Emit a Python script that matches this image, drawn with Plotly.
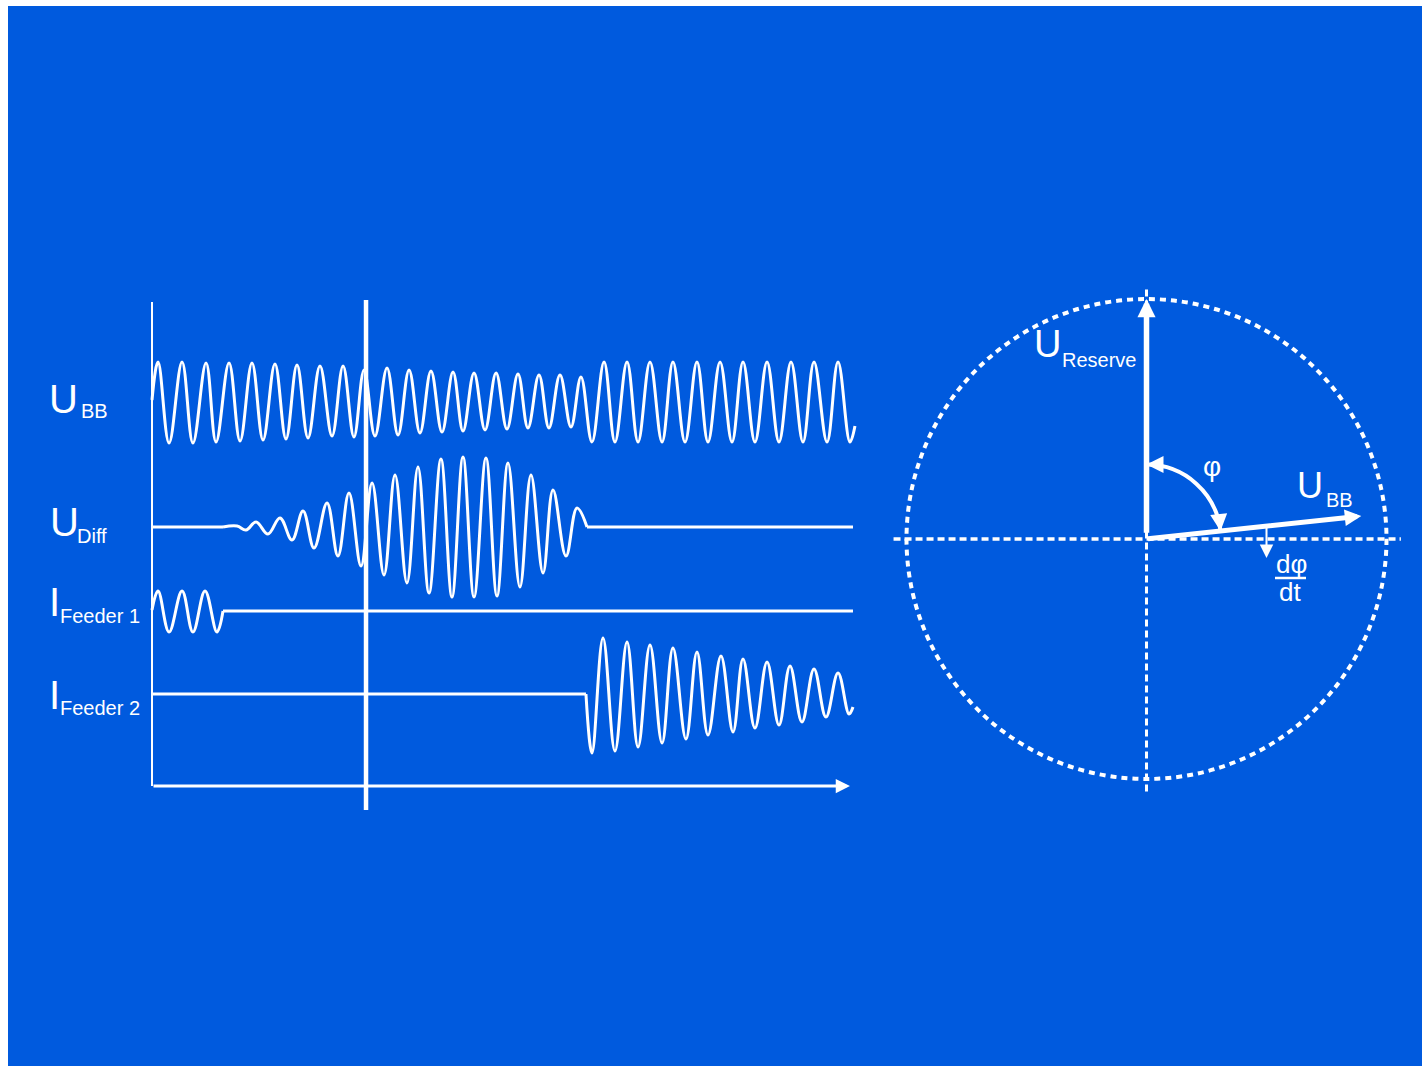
import numpy as np
import plotly.graph_objects as go

W, H = 1422, 1066
BLUE = "#005ADE"
WHITE = "#FFFFFF"
FONT = "Liberation Sans, Arial, sans-serif"

# ---------------------------------------------------------------------------
# Waveform panel: time in ms, signals in p.u. around each channel baseline
# ---------------------------------------------------------------------------
# busbar voltage U_BB (extrema of the oscillogram)
ubb_t = [0.0, 5.2, 14.7, 25.9, 35.3, 46.6, 55.2, 66.4, 75.9, 86.2, 95.7, 106.0,
         115.5, 125.0, 134.5, 144.8, 155.2, 164.7, 174.1, 182.8, 192.2, 202.6,
         212.1, 221.6, 231.0, 240.5, 250.0, 259.5, 268.1, 277.6, 287.1, 296.6,
         306.0, 315.5, 324.1, 333.6, 342.2, 351.7, 361.2, 369.8, 379.3, 389.7,
         399.1, 409.5, 419.0, 429.3, 439.7, 449.1, 459.5, 469.8, 479.3, 489.7,
         500.0, 509.5, 519.8, 530.2, 540.5, 550.9, 561.2, 570.7, 581.9, 591.4,
         601.7, 606.0]
ubb_v = [0.05, 1.0, -1.025, 1.0, -1.025, 0.975, -1.0, 0.975, -0.975, 0.975,
         -0.95, 0.95, -0.925, 0.925, -0.9, 0.9, -0.85, 0.9, -0.875, 0.8,
         -0.85, 0.85, -0.825, 0.8, -0.775, 0.775, -0.75, 0.75, -0.725, 0.725,
         -0.7, 0.725, -0.675, 0.7, -0.65, 0.675, -0.65, 0.675, -0.625, 0.625,
         -1.0, 1.0, -1.0, 1.0, -1.0, 1.0, -1.0, 1.0, -1.0, 1.0, -1.0, 1.0,
         -1.0, 1.0, -1.0, 1.0, -1.0, 1.0, -1.0, 1.0, -1.0, 1.0, -1.0, -0.6]

# differential voltage U_Diff (beat between busbar and reserve supply)
udiff_t = [61.2, 73.3, 81.0, 89.7, 100.0, 110.3, 120.7, 130.2, 139.7, 150.9,
           160.3, 169.8, 180.2, 189.7, 200.0, 209.5, 219.8, 229.3, 238.8,
           249.1, 258.6, 268.1, 277.6, 287.9, 297.4, 306.9, 317.2, 326.7,
           337.1, 345.7, 356.9, 366.4, 375.0]
udiff_v = [0.0, 0.025, -0.075, 0.125, -0.175, 0.225, -0.325, 0.4, -0.525, 0.6,
           -0.725, 0.85, -0.975, 1.1, -1.2, 1.3, -1.4, 1.5, -1.65, 1.7, -1.75,
           1.75, -1.75, 1.725, -1.725, 1.6, -1.5, 1.3, -1.15, 0.925, -0.725,
           0.475, 0.0]

# feeder 1 current (interrupted)
if1_t = [0.0, 5.2, 14.7, 25.9, 35.3, 45.7, 56.0, 61.2]
if1_v = [0.025, 0.5, -0.525, 0.5, -0.525, 0.5, -0.525, 0.0]

# feeder 2 current (reserve feeder picks up the load)
if2_t = [374.1, 379.3, 388.8, 399.1, 409.5, 419.0, 429.3, 439.7, 449.1, 460.3,
         469.8, 479.3, 490.5, 500.9, 509.5, 519.8, 530.2, 540.5, 550.0, 560.3,
         570.7, 581.0, 591.4, 600.9, 604.3]
if2_v = [0.0, -1.475, 1.4, -1.425, 1.3, -1.325, 1.225, -1.225, 1.15, -1.125,
         1.05, -1.025, 0.95, -0.95, 0.875, -0.85, 0.8, -0.775, 0.7, -0.7,
         0.625, -0.575, 0.525, -0.5, -0.325]

# channel baselines (p.u.) and flat (zero) stretches
ch_offset = {"UBB": 0.0, "UDiff": -3.125, "IF1": -5.225, "IF2": -7.3}
udiff_flat = [(0.0, 61.2), (375.0, 604.3)]
if1_flat = [(61.2, 604.3)]
if2_flat = [(0.0, 374.1)]

t_end_axis = 601.7      # tip of the time arrow
v_axis_top = 2.5
v_axis_bottom = -9.6
t_switch = 184.5        # switching instant marker
v_switch = (2.55, -10.2)

# ---------------------------------------------------------------------------
# Phasor diagram (p.u.)
# ---------------------------------------------------------------------------
u_reserve_mag, u_reserve_ang = 1.0, 90.0
u_bb_mag, u_bb_ang = 0.90, 6.1
phi_arc_r = 0.31
dphi_pos = 0.5          # where the d(phi)/dt arrow starts along U_BB
dphi_len = 0.133

# ---------------------------------------------------------------------------
def pap(xpx, ypx):
    return xpx / W, 1 - ypx / H


fig = go.Figure()


def add_wave(t, v, off):
    fig.add_trace(go.Scatter(
        x=t, y=np.array(v) + off, mode="lines",
        line=dict(color=WHITE, width=3, shape="spline", smoothing=1.1),
        xaxis="x", yaxis="y", hoverinfo="skip", showlegend=False))


def add_flat(spans, off):
    for a, b in spans:
        fig.add_trace(go.Scatter(
            x=[a, b], y=[off, off], mode="lines", line=dict(color=WHITE, width=3),
            xaxis="x", yaxis="y", hoverinfo="skip", showlegend=False))


add_wave(ubb_t, ubb_v, ch_offset["UBB"])
add_wave(udiff_t, udiff_v, ch_offset["UDiff"])
add_wave(if1_t, if1_v, ch_offset["IF1"])
add_wave(if2_t, if2_v, ch_offset["IF2"])
add_flat(udiff_flat, ch_offset["UDiff"])
add_flat(if1_flat, ch_offset["IF1"])
add_flat(if2_flat, ch_offset["IF2"])

# amplitude axis
fig.add_trace(go.Scatter(x=[0, 0], y=[v_axis_top, v_axis_bottom], mode="lines",
                         line=dict(color=WHITE, width=2), xaxis="x", yaxis="y",
                         hoverinfo="skip", showlegend=False))
# switching instant
fig.add_trace(go.Scatter(x=[t_switch, t_switch], y=list(v_switch), mode="lines",
                         line=dict(color=WHITE, width=4.5), xaxis="x", yaxis="y",
                         hoverinfo="skip", showlegend=False))

# ---------------------------------------------------------------------------
# Layout: two hand-scaled subplots, pixel-matched
# ---------------------------------------------------------------------------
lx0, lx1 = 100, 880
ly0, ly1 = 250, 850
px_per_ms = 1.16
px_per_pu = 40.0
t0_px, v0_px = 152, 402

cx, cy, R = 1146.5, 539.0, 240.0
half = 260.0

layout_axes = dict(
    xaxis=dict(domain=[lx0 / W, lx1 / W],
               range=[(lx0 - t0_px) / px_per_ms, (lx1 - t0_px) / px_per_ms],
               visible=False, fixedrange=True, anchor="y"),
    yaxis=dict(domain=[1 - ly1 / H, 1 - ly0 / H],
               range=[(v0_px - ly1) / px_per_pu, (v0_px - ly0) / px_per_pu],
               visible=False, fixedrange=True, anchor="x"),
    xaxis2=dict(domain=[(cx - half) / W, (cx + half) / W],
                range=[-half / R, half / R], visible=False, fixedrange=True,
                anchor="y2"),
    yaxis2=dict(domain=[1 - (cy + half) / H, 1 - (cy - half) / H],
                range=[-half / R, half / R], visible=False, fixedrange=True,
                anchor="x2"),
)

shapes = [
    # slide background
    dict(type="rect", xref="paper", yref="paper", x0=8 / W, x1=1, y0=0,
         y1=1 - 6 / H, fillcolor=BLUE, line=dict(width=0), layer="below"),
    # phasor reference axes
    dict(type="line", xref="x2", yref="y2", x0=-1.054, x1=1.06, y0=0, y1=0,
         line=dict(color=WHITE, width=3.5, dash="7px,4px")),
    dict(type="line", xref="x2", yref="y2", x0=0, x1=0, y0=1.04, y1=-1.065,
         line=dict(color=WHITE, width=3, dash="7px,4px")),
    # unit circle
    dict(type="circle", xref="x2", yref="y2", x0=-1, x1=1, y0=-1, y1=1,
         line=dict(color=WHITE, width=4, dash="6px,5px")),
]

# phi arc between U_BB and U_Reserve (cubic Bezier)
a0 = np.radians(u_bb_ang)
a1 = np.radians(u_reserve_ang)
k = 4 / 3 * np.tan((a1 - a0) / 4)
p0 = (phi_arc_r * np.cos(a0), phi_arc_r * np.sin(a0))
p3 = (phi_arc_r * np.cos(a1), phi_arc_r * np.sin(a1))
p1 = (p0[0] - k * phi_arc_r * np.sin(a0), p0[1] + k * phi_arc_r * np.cos(a0))
p2 = (p3[0] + k * phi_arc_r * np.sin(a1), p3[1] - k * phi_arc_r * np.cos(a1))
shapes.append(dict(
    type="path", xref="x2", yref="y2",
    path=f"M{p0[0]},{p0[1]} C{p1[0]},{p1[1]} {p2[0]},{p2[1]} {p3[0]},{p3[1]}",
    line=dict(color=WHITE, width=4)))

# fraction bar of d(phi)/dt
shapes.append(dict(type="line", xref="paper", yref="paper",
                   x0=1275 / W, x1=1306 / W, y0=1 - 578 / H, y1=1 - 578 / H,
                   line=dict(color=WHITE, width=2.5)))

annotations = []


def arrow(xt, yt, xs, ys, ref, width, size):
    xr, yr = ref
    annotations.append(dict(
        x=xt, y=yt, ax=xs, ay=ys, xref=xr, yref=yr, axref=xr, ayref=yr,
        text="", showarrow=True, arrowhead=2, arrowsize=size,
        arrowwidth=width, arrowcolor=WHITE))


# time axis
arrow(t_end_axis, v_axis_bottom, 0, v_axis_bottom, ("x", "y"), 3, 0.95)

# phasors
ur = (u_reserve_mag * np.cos(np.radians(u_reserve_ang)),
      u_reserve_mag * np.sin(np.radians(u_reserve_ang)))
arrow(ur[0], ur[1], 0, 0.02, ("x2", "y2"), 5.5, 0.66)
ub = (u_bb_mag * np.cos(np.radians(u_bb_ang)), u_bb_mag * np.sin(np.radians(u_bb_ang)))
arrow(ub[0], ub[1], 0, 0, ("x2", "y2"), 5, 0.66)

# d(phi)/dt
ys = dphi_pos * np.tan(np.radians(u_bb_ang))
arrow(dphi_pos, ys - dphi_len, dphi_pos, ys, ("x2", "y2"), 2, 1.35)

# arc heads
arrow(p3[0], p3[1], p3[0] + 0.06, p3[1], ("x2", "y2"), 4, 0.85)
arrow(p0[0], p0[1], p0[0] - 0.06 * np.sin(a0), p0[1] + 0.06 * np.cos(a0),
      ("x2", "y2"), 4, 0.85)


def label(text, xpx, ypx, size, xanchor="left"):
    x, y = pap(xpx, ypx)
    annotations.append(dict(
        x=x, y=y, xref="paper", yref="paper", text=text, showarrow=False,
        xanchor=xanchor, yanchor="middle",
        font=dict(family=FONT, size=size, color=WHITE)))


# channel labels
label("U", 47, 399, 40)
label("BB", 78.5, 411, 20)
label("U", 48, 522, 40)
label("Diff", 75.4, 536, 20)
label("I", 47.2, 602, 40)
label("Feeder 1", 58.4, 616, 20)
label("I", 47.2, 695, 40)
label("Feeder 2", 58.4, 707.5, 20)

# phasor labels
label("U", 1032, 344, 38)
label("Reserve", 1060.4, 360, 20)
label("φ", 1212, 466.6, 28, "center")
label("U", 1295, 485, 36)
label("BB", 1323.5, 500, 20)
label("dφ", 1291.5, 563.7, 26, "center")
label("dt", 1289.5, 592, 26, "center")

fig.update_layout(
    width=W, height=H,
    margin=dict(l=0, r=0, t=0, b=0),
    paper_bgcolor=WHITE, plot_bgcolor="rgba(0,0,0,0)",
    showlegend=False, hovermode=False,
    shapes=shapes, annotations=annotations,
    **layout_axes,
)

fig.write_html("out.html", config={"displayModeBar": False})
